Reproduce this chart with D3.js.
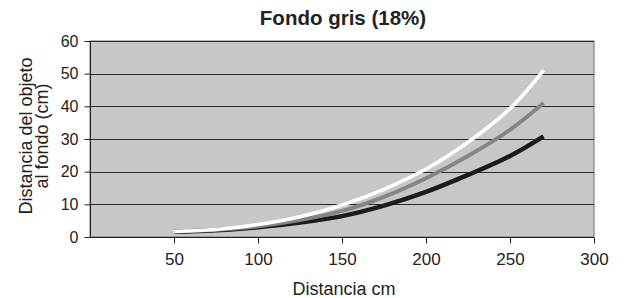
<!DOCTYPE html>
<html>
<head>
<meta charset="utf-8">
<script src="https://cdn.jsdelivr.net/npm/d3@7"></script>
<style>
  body { margin: 0; background: #fff; }
  text { font-family: "Liberation Sans", Arial, sans-serif; fill: #222; }
</style>
</head>
<body>
<div id="chart"></div>
<script>
// datos
var distancias = [50, 75, 100, 125, 150, 175, 200, 225, 250, 270];
var serieBlanca = [1.7, 2.3, 3.8, 6.2, 9.8, 14.6, 20.8, 29.0, 39.3, 51.0];
var serieGris   = [1.7, 2.2, 3.3, 5.2, 8.0, 12.3, 18.0, 24.8, 32.8, 41.0];
var serieNegra  = [1.6, 2.1, 3.0, 4.4, 6.4, 9.6, 13.8, 19.0, 24.8, 30.8];
var ticksX = [50, 100, 150, 200, 250, 300];
var ticksY = [0, 10, 20, 30, 40, 50, 60];

var w = 624, h = 298;
var mIzq = 90, mDer = 594, mArr = 41, mAba = 237;

var svg = d3.select("#chart").append("svg")
  .attr("width", w)
  .attr("height", h);

var x = d3.scaleLinear().domain([0, 300]).range([mIzq, mDer]);
var y = d3.scaleLinear().domain([0, 60]).range([mAba, mArr]);

// fondo del area
svg.append("rect")
  .attr("x", mIzq).attr("y", mArr)
  .attr("width", mDer - mIzq).attr("height", mAba - mArr)
  .attr("fill", "#c7c7c8")
  .attr("stroke", "#6e6e6e")
  .attr("stroke-width", 1);

// lineas de division
svg.selectAll(".grid")
  .data(ticksY.filter(function(d) { return d > 0; }))
  .enter().append("line")
  .attr("x1", mIzq).attr("x2", mDer)
  .attr("y1", function(d) { return Math.round(y(d)) + 0.5; })
  .attr("y2", function(d) { return Math.round(y(d)) + 0.5; })
  .attr("stroke", "#2a2a2a")
  .attr("stroke-width", 1);

// ejes
var ejeX = svg.append("g")
  .attr("transform", "translate(0," + (mAba + 0.5) + ")")
  .call(d3.axisBottom(x).tickValues(ticksX).tickSize(6).tickPadding(9).tickSizeOuter(0));
var ejeY = svg.append("g")
  .attr("transform", "translate(" + (mIzq + 0.5) + ",0)")
  .call(d3.axisLeft(y).tickValues(ticksY).tickSize(6).tickPadding(6).tickSizeOuter(0));

ejeX.select(".domain").attr("stroke", "#222").attr("d", "M" + mIzq + ",0H" + mDer);
ejeY.select(".domain").attr("stroke", "#222").attr("d", "M0," + mArr + "V" + mAba);
ejeX.selectAll(".tick line").attr("stroke", "#222");
ejeY.selectAll(".tick line").attr("stroke", "#222");
ejeX.selectAll(".tick text").attr("font-size", "17px").attr("fill", "#222")
  .attr("font-family", "Liberation Sans, Arial, sans-serif");
ejeY.selectAll(".tick text").attr("font-size", "16px").attr("fill", "#222")
  .attr("font-family", "Liberation Sans, Arial, sans-serif");

// curvas
var linea = d3.line()
  .x(function(d) { return x(d[0]); })
  .y(function(d) { return y(d[1]); })
  .curve(d3.curveCatmullRom);

var series = [
  { valores: serieNegra, color: "#1c1a1a", ancho: 4.5 },
  { valores: serieGris, color: "#858585", ancho: 4 },
  { valores: serieBlanca, color: "#ffffff", ancho: 3.5 }
];

series.forEach(function(s) {
  var pts = distancias.map(function(d, i) { return [d, s.valores[i]]; });
  svg.append("path")
    .attr("d", linea(pts))
    .attr("fill", "none")
    .attr("stroke", s.color)
    .attr("stroke-width", s.ancho);
});

// titulos
svg.append("text")
  .attr("x", 343).attr("y", 25)
  .attr("text-anchor", "middle")
  .attr("font-size", "20.5px")
  .attr("font-weight", "bold")
  .text("Fondo gris (18%)");

svg.append("text")
  .attr("x", 344).attr("y", 295)
  .attr("text-anchor", "middle")
  .attr("font-size", "18px")
  .text("Distancia cm");

var tituloY = svg.append("text")
  .attr("transform", "translate(32,136) rotate(-90)")
  .attr("text-anchor", "middle")
  .attr("font-size", "18px");
tituloY.append("tspan").attr("x", 0).attr("dy", 0).text("Distancia del objeto");
tituloY.append("tspan").attr("x", 0).attr("dy", 16).text("al fondo (cm)");
</script>
</body>
</html>
